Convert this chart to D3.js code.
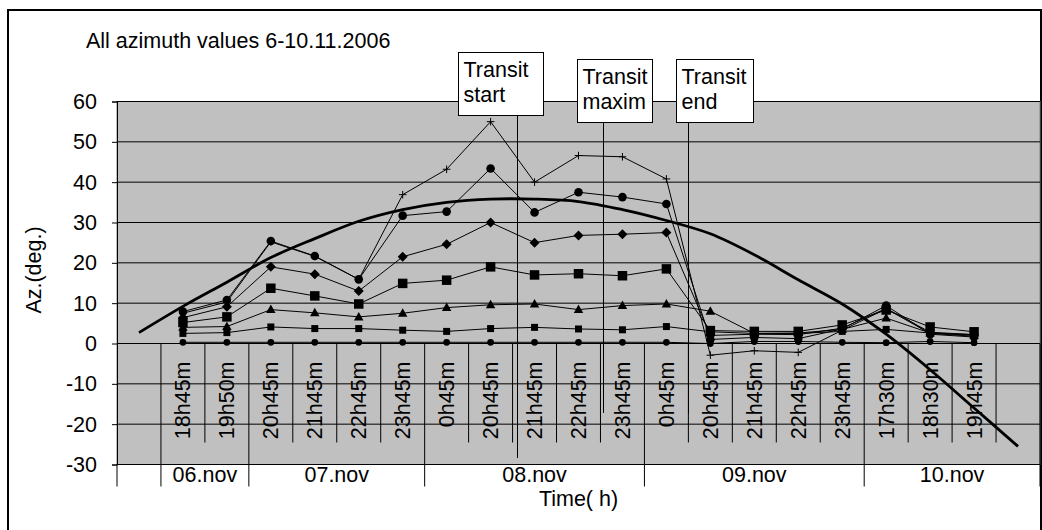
<!DOCTYPE html>
<html><head><meta charset="utf-8">
<script src="https://cdn.jsdelivr.net/npm/d3@7"></script>
<style>html,body{margin:0;padding:0;background:#fff}svg{display:block}text{font-family:"Liberation Sans",Arial,sans-serif;fill:#000}</style>
</head><body>
<script>
// ---- data ----
const times = ["", "18h45m","19h50m","20h45m","21h45m","22h45m","23h45m","0h45m","20h45m","21h45m","22h45m","23h45m","0h45m","20h45m","21h45m","22h45m","23h45m","17h30m","18h30m","19h45m",""];
const days  = ["", "06.nov","06.nov","07.nov","07.nov","07.nov","07.nov","08.nov","08.nov","08.nov","08.nov","08.nov","09.nov","09.nov","09.nov","09.nov","09.nov","10.nov","10.nov","10.nov","10.nov"];
const yTicks = [-30,-20,-10,0,10,20,30,40,50,60];
const serPlus    = [null, 7.5, 10.3, 25.2, 21.6, 15.9, 36.9, 43.2, 55.0, 40.0, 46.6, 46.3, 40.8, -2.9, -1.8, -2.2, 3.3, 8.6, 2.5, 1.8, null];
const serCircle  = [null, 7.9, 10.8, 25.4, 21.7, 15.9, 31.7, 32.7, 43.4, 32.5, 37.5, 36.3, 34.6, 1.0, 1.5, 1.2, 3.6, 9.4, 2.3, 1.6, null];
const serDiamond = [null, 6.4, 9.1, 19.0, 17.2, 13.0, 21.5, 24.6, 30.0, 25.0, 26.8, 27.1, 27.5, 2.0, 2.3, 2.2, 3.8, 8.7, 2.8, 2.2, null];
const serSquare  = [null, 5.2, 6.6, 13.7, 11.8, 9.8, 14.9, 15.7, 19.0, 17.0, 17.3, 16.8, 18.5, 3.2, 3.0, 3.0, 4.6, 8.3, 4.1, 2.9, null];
const serTri     = [null, 4.0, 4.2, 8.4, 7.6, 6.6, 7.5, 8.9, 9.6, 9.8, 8.4, 9.4, 9.8, 8.0, 2.5, 2.6, 3.5, 6.3, 2.6, 2.0, null];
const serSmallSq = [null, 2.5, 2.7, 4.1, 3.7, 3.7, 3.3, 3.0, 3.7, 4.0, 3.6, 3.4, 4.2, 2.9, 2.5, 2.5, 3.0, 3.5, 2.6, 2.2, null];
const serDot     = [null, 0.3, 0.3, 0.3, 0.3, 0.3, 0.3, 0.3, 0.3, 0.3, 0.3, 0.3, 0.3, 0.0, 0.5, 0.5, 0.3, 0.2, 0.5, 0.2, null];
const serModel   = [2.7, 9.2, 15.2, 21.3, 26.0, 30.3, 33.2, 35.0, 35.8, 35.8, 35.2, 33.2, 30.5, 27.2, 22.0, 15.8, 9.8, 2.3, -6.5, -16.0, -25.5];
const transits = [{label:["Transit","start"], pos:9.09}, {label:["Transit","maxim"], pos:11.05}, {label:["Transit","end"], pos:13.0}];

// ---- layout ----
const W = 1042, H = 530;
const FS = 21.5;
const plot = {l:117, r:1040, t:101.5, b:464.5};
const svg = d3.select("body").append("svg").attr("width", W).attr("height", H);

const idx = d3.range(times.length);
const x = d3.scaleBand().domain(idx).range([plot.l, plot.r]).padding(0);
const cx = i => x(i) + x.bandwidth()/2;
const y = d3.scaleLinear().domain([-30, 60]).range([plot.b, plot.t]);
const xPos = d3.scaleLinear().domain([0, times.length]).range([plot.l, plot.r]);

// outer frame
svg.append("rect").attr("x", 8).attr("y", 10).attr("width", 1033).attr("height", 540)
  .attr("fill", "none").attr("stroke", "#000").attr("stroke-width", 2);

// plot background
svg.append("rect").attr("x", plot.l).attr("y", plot.t).attr("width", plot.r - plot.l).attr("height", plot.b - plot.t)
  .attr("fill", "#c0c0c0").attr("stroke", "#808080").attr("stroke-width", 1);

// gridlines
svg.append("g").selectAll("line").data(yTicks).join("line")
  .attr("x1", plot.l).attr("x2", plot.r).attr("y1", d => y(d)).attr("y2", d => y(d))
  .attr("stroke", "#000").attr("stroke-width", 1);

// y axis
const yAxis = svg.append("g").attr("transform", `translate(${plot.l},0)`)
  .call(d3.axisLeft(y).tickValues(yTicks).tickFormat(d => String(d)).tickSize(5).tickPadding(15));
yAxis.select(".domain").attr("stroke", "#000");
yAxis.selectAll("text").attr("font-size", FS).attr("font-family", "Liberation Sans, Arial, sans-serif");
yAxis.selectAll("line").attr("stroke", "#000");

// category tick lines (first level)
const bounds = d3.range(1, times.length);
const groupBounds = [0];
for (let i = 1; i < days.length; i++) if (days[i] !== days[i-1]) groupBounds.push(i);
groupBounds.push(times.length);
svg.append("g").selectAll("line").data(bounds.filter(b => !groupBounds.includes(b))).join("line")
  .attr("x1", d => xPos(d)).attr("x2", d => xPos(d)).attr("y1", y(0)).attr("y2", 442.5)
  .attr("stroke", "#000");
svg.append("g").selectAll("line").data(groupBounds).join("line")
  .attr("x1", d => xPos(d)).attr("x2", d => xPos(d)).attr("y1", d => d === 0 ? plot.b : y(0)).attr("y2", 486.5)
  .attr("stroke", "#000");

// category labels (rotated)
svg.append("g").selectAll("text").data(idx.filter(i => times[i])).join("text")
  .attr("transform", i => `translate(${cx(i) + 7.5},361.5) rotate(-90)`)
  .attr("text-anchor", "end").attr("font-size", FS).text(i => times[i]);

// group labels
const groups = [];
for (let g = 0; g < groupBounds.length - 1; g++) {
  const s = groupBounds[g], e = groupBounds[g+1];
  if (days[s]) groups.push({name: days[s], s, e});
}
svg.append("g").selectAll("text").data(groups).join("text")
  .attr("x", d => (xPos(d.s) + xPos(d.e)) / 2).attr("y", 482)
  .attr("text-anchor", "middle").attr("font-size", FS).text(d => d.name);

// axis titles
svg.append("text").attr("x", (plot.l + plot.r) / 2).attr("y", 506).attr("text-anchor", "middle")
  .attr("font-size", FS).text("Time( h)");
svg.append("text").attr("transform", "translate(41,270) rotate(-90)").attr("text-anchor", "middle")
  .attr("font-size", FS).text("Az.(deg.)");
svg.append("text").attr("x", 86).attr("y", 48).attr("font-size", FS).text("All azimuth values 6-10.11.2006");

// series
const line = d3.line().defined(d => d.v != null).x(d => cx(d.i)).y(d => y(d.v));
const toPts = arr => arr.map((v, i) => ({i, v}));
const sym = {
  circle: r => ({draw(c){ c.moveTo(r, 0); c.arc(0, 0, r, 0, 2*Math.PI); }}),
  square: s => ({draw(c){ c.rect(-s/2, -s/2, s, s); }}),
  diamond: r => ({draw(c){ c.moveTo(0,-r); c.lineTo(r,0); c.lineTo(0,r); c.lineTo(-r,0); c.closePath(); }}),
  triangle: r => ({draw(c){ c.moveTo(0,-r); c.lineTo(r*0.95, r*0.7); c.lineTo(-r*0.95, r*0.7); c.closePath(); }}),
  plus: r => ({draw(c){ c.moveTo(-r,0); c.lineTo(r,0); c.moveTo(0,-r); c.lineTo(0,r); }})
};
const series = [
  {data: serDot, type: sym.circle(3.4), fill: true},
  {data: serSmallSq, type: sym.square(7), fill: true},
  {data: serTri, type: sym.triangle(5), fill: true},
  {data: serSquare, type: sym.square(9.5), fill: true},
  {data: serDiamond, type: sym.diamond(5), fill: true},
  {data: serCircle, type: sym.circle(4.3), fill: true},
  {data: serPlus, type: sym.plus(3.8), fill: false}
];
const gS = svg.append("g");
series.forEach(s => {
  const pts = toPts(s.data);
  gS.append("path").attr("d", line(pts)).attr("fill", "none").attr("stroke", "#000").attr("stroke-width", 1);
  gS.append("g").selectAll("path").data(pts.filter(d => d.v != null)).join("path")
    .attr("transform", d => `translate(${cx(d.i)},${y(d.v)})`)
    .attr("d", d3.symbol().type(s.type).size(1)())
    .attr("fill", s.fill ? "#000" : "none").attr("stroke", "#000").attr("stroke-width", s.fill ? 0 : 1);
});

// model curve (thick, smoothed)
svg.append("path").attr("d", d3.line().curve(d3.curveCatmullRom.alpha(0.5)).x(d => cx(d.i)).y(d => y(d.v))(toPts(serModel)))
  .attr("fill", "none").attr("stroke", "#000").attr("stroke-width", 2.8);

// transit markers
const gT = svg.append("g");
const boxes = [{x:458.5, y:52.5, w:85, h:63}, {x:577.5, y:59.5, w:75, h:63}, {x:676.5, y:59.5, w:77, h:63}];
const lineEnds = [458, 413, 413];
transits.forEach((t, k) => {
  const b = boxes[k];
  const lx = Math.round(xPos(t.pos)) + 0.5;
  gT.append("line").attr("x1", lx).attr("x2", lx).attr("y1", b.y + b.h).attr("y2", lineEnds[k]).attr("stroke", "#000");
  gT.append("rect").attr("x", b.x).attr("y", b.y).attr("width", b.w).attr("height", b.h)
    .attr("fill", "#fff").attr("stroke", "#000");
  t.label.forEach((s, j) => gT.append("text").attr("x", b.x + 5).attr("y", b.y + 24 + j * 25).attr("font-size", FS).text(s));
});
</script>
</body></html>
